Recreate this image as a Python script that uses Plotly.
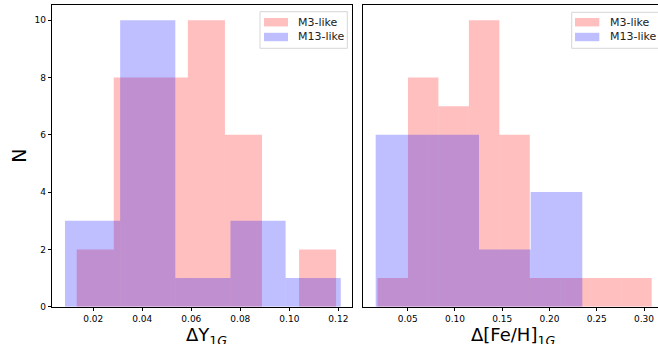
import numpy as np
import plotly.graph_objects as go

# ---------------- data ----------------
# Left panel: Delta Y_1G histograms
dy_m3_edges = [0.01322, 0.02835, 0.04347, 0.05860, 0.07373, 0.08885, 0.10398, 0.11910]
dy_m3_counts = [2, 8, 8, 10, 6, 0, 2]
dy_m13_edges = [0.00845, 0.03096, 0.05347, 0.07598, 0.09849, 0.12100]
dy_m13_counts = [3, 10, 1, 3, 1]

# Right panel: Delta [Fe/H]_1G histograms
dfe_m3_edges = [0.01805, 0.05028, 0.08251, 0.11474, 0.14697, 0.17920, 0.21143, 0.24366, 0.27589, 0.30812]
dfe_m3_counts = [1, 8, 7, 10, 6, 1, 1, 1, 1]
dfe_m13_edges = [0.01614, 0.07079, 0.12544, 0.18008, 0.23472]
dfe_m13_counts = [6, 6, 2, 4]

series_names = ["M3-like", "M13-like"]
y_ticks = [0, 2, 4, 6, 8, 10]
dy_ticks = [0.02, 0.04, 0.06, 0.08, 0.10, 0.12]
dfe_ticks = [0.05, 0.10, 0.15, 0.20, 0.25, 0.30]

PINK = "rgba(255,0,0,0.25)"
BLUE = "rgba(0,0,255,0.25)"
FONT = "DejaVu Sans"

W, H = 658, 344


def px_x(p):
    return p / W


def px_y(p):  # from top
    return 1 - p / H


def hist_bar(edges, counts, color, xa, ya, name):
    e = np.array(edges)
    return go.Bar(
        x=(e[:-1] + e[1:]) / 2,
        y=counts,
        width=np.diff(e),
        marker=dict(color=color, line=dict(width=0)),
        xaxis=xa, yaxis=ya, name=name, showlegend=False,
    )


fig = go.Figure()
fig.add_trace(hist_bar(dy_m3_edges, dy_m3_counts, PINK, "x", "y", series_names[0]))
fig.add_trace(hist_bar(dy_m13_edges, dy_m13_counts, BLUE, "x", "y", series_names[1]))
fig.add_trace(hist_bar(dfe_m3_edges, dfe_m3_counts, PINK, "x2", "y2", series_names[0]))
fig.add_trace(hist_bar(dfe_m13_edges, dfe_m13_counts, BLUE, "x2", "y2", series_names[1]))

ydom = [px_y(306.7), px_y(5)]
tickfont = dict(family=FONT, size=9, color="black")
common_x = dict(ticks="outside", ticklen=3.5, tickwidth=0.8, tickcolor="black",
                showline=True, linecolor="black", linewidth=1, showgrid=False,
                zeroline=False, tickfont=tickfont, automargin=False)

fig.update_layout(
    width=W, height=H,
    margin=dict(l=0, r=0, t=0, b=0),
    paper_bgcolor="white", plot_bgcolor="white",
    barmode="overlay",
    font=dict(family=FONT, color="black"),
    xaxis=dict(domain=[px_x(52.3), px_x(352.3)], range=[0.00327, 0.1257],
               tickvals=dy_ticks, ticktext=[f"{v:.2f}" for v in dy_ticks],
               mirror=True, anchor="y", **common_x),
    yaxis=dict(domain=ydom, range=[0, 10.53], tickvals=y_ticks,
               ticks="outside", ticklen=3.5, tickwidth=0.8, tickcolor="black",
               showline=True, linecolor="black", linewidth=1, mirror=True,
               showgrid=False, zeroline=False, tickfont=tickfont,
               automargin=False, anchor="x"),
    xaxis2=dict(domain=[px_x(363.3), 1.0], range=[0.00303, 0.3148],
                tickvals=dfe_ticks, ticktext=[f"{v:.2f}" for v in dfe_ticks],
                mirror=True, anchor="y2", **common_x),
    yaxis2=dict(domain=ydom, range=[0, 10.53], showticklabels=False, ticks="",
                showline=True, linecolor="black", linewidth=1, mirror=False,
                showgrid=False, zeroline=False, automargin=False, anchor="x2"),
)

# axis titles
ann = [
    dict(text="N", x=px_x(19), y=(ydom[0] + ydom[1]) / 2, textangle=-90,
         font=dict(size=19, family=FONT, color="black")),
    dict(text="ΔY<sub>1<i>G</i></sub>", x=px_x(206), y=px_y(336),
         font=dict(size=18, family=FONT, color="black")),
    dict(text="Δ[Fe/H]<sub>1<i>G</i></sub>", x=px_x(513), y=px_y(336),
         font=dict(size=18, family=FONT, color="black")),
]
for a in ann:
    a.update(xref="paper", yref="paper", showarrow=False, xanchor="center", yanchor="middle")
    fig.add_annotation(**a)

# legends (drawn manually to match patch shape)
shapes = []
legends = [
    dict(box=(260, 11.7, 347.3, 48.3), patch_x=(264, 288), text_x=296),
    dict(box=(571.7, 12.3, 662, 48.3), patch_x=(575, 599.3), text_x=607.7),
]
rows = [(22.2, PINK, series_names[0]), (37.0, BLUE, series_names[1])]
for lg in legends:
    x0, y0, x1, y1 = lg["box"]
    shapes.append(dict(type="rect", xref="paper", yref="paper",
                       x0=px_x(x0), x1=px_x(x1), y0=px_y(y1), y1=px_y(y0),
                       line=dict(color="#d6d6d6", width=1),
                       fillcolor="rgba(255,255,255,0.8)", layer="above"))
    for cy, col, name in rows:
        shapes.append(dict(type="rect", xref="paper", yref="paper",
                           x0=px_x(lg["patch_x"][0]), x1=px_x(lg["patch_x"][1]),
                           y0=px_y(cy + 4.2), y1=px_y(cy - 4.2),
                           line=dict(width=0), fillcolor=col, layer="above"))
        fig.add_annotation(text=name, xref="paper", yref="paper",
                           x=px_x(lg["text_x"]), y=px_y(cy), xanchor="left",
                           yanchor="middle", showarrow=False,
                           font=dict(size=11, family=FONT, color="#222"))
fig.update_layout(shapes=shapes)

fig.write_html("out.html")
